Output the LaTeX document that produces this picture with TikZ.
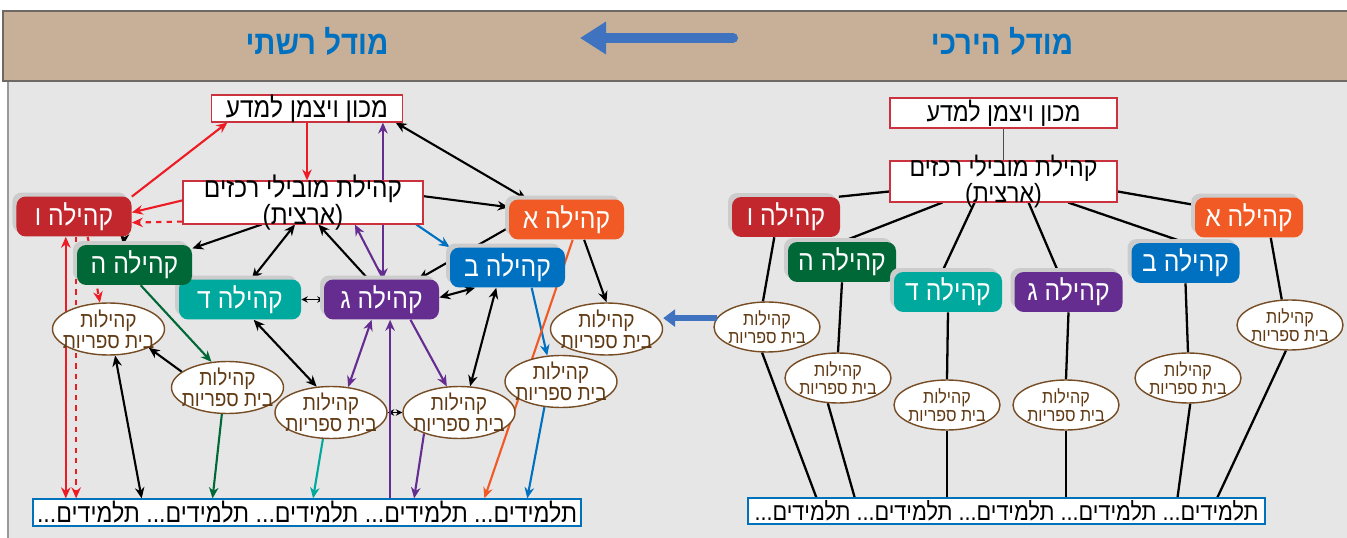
\documentclass[tikz,border=0pt]{standalone}
\usepackage{fontspec}
\usepackage{xcolor}
\usetikzlibrary{
    arrows.meta,
    shapes.geometric,
    shadows,
    calc
}
\newfontfamily\heb[Script=Hebrew,FakeStretch=0.88]{Liberation Sans}
\TeXXeTstate=1
\newcommand{\rl}[1]{\beginR#1\endR}

\definecolor{hdrtan}{RGB}{199,176,151}
\definecolor{hdrline}{RGB}{110,105,100}
\definecolor{bodygray}{RGB}{230,230,230}
\definecolor{titleblue}{RGB}{0,112,192}
\definecolor{bigblue}{RGB}{63,114,191}
\definecolor{boxred}{RGB}{204,50,62}
\definecolor{colA}{RGB}{241,90,36}
\definecolor{colB}{RGB}{0,112,192}
\definecolor{colG}{RGB}{102,45,145}
\definecolor{colD}{RGB}{0,169,157}
\definecolor{colH}{RGB}{0,104,55}
\definecolor{colV}{RGB}{193,39,45}
\definecolor{arrred}{RGB}{237,28,36}
\definecolor{schbrown}{RGB}{117,76,36}
\definecolor{schtext}{RGB}{96,57,19}
\definecolor{pupblue}{RGB}{0,114,188}

\pgfdeclarelayer{background}
\pgfsetlayers{background,main}

\tikzset{%
    >={Stealth[length=2.2mm,width=1.9mm]},
    % Specifications for style of nodes:
    base/.style = {
        rectangle, draw=boxred, line width=0.6pt, fill=white,
        font=\heb\fontsize{15.8}{13}\selectfont, align=center,
        inner xsep=1pt, inner ysep=-2mm
    },
    comm/.style = {
        rectangle, rounded corners=1.8mm, fill=#1, text=white,
        font=\heb\fontsize{16}{18}\selectfont,
        minimum width=23mm, minimum height=7mm,
        drop shadow={shadow xshift=-0.8mm, shadow yshift=0.8mm,
            fill=black!20, opacity=1}
    },
    school/.style = {
        ellipse, draw=schbrown, line width=0.8pt, fill=white, text=schtext,
        align=center, inner xsep=-4mm, inner ysep=-2mm,
        minimum width=22.4mm, minimum height=10.4mm,
        font=\heb\fontsize{12.3}{12}\selectfont
    },
    smallschool/.style = {
        school, minimum width=21.2mm, minimum height=10mm,
        font=\heb\fontsize{10.4}{10.5}\selectfont
    },
    pupils/.style = {
        rectangle, draw=pupblue, line width=0.7pt, fill=white, inner sep=0pt,
        font=\heb\fontsize{15}{16}\selectfont
    },
    title/.style = {text=titleblue, font=\heb\bfseries\fontsize{19}{19}\selectfont},
    % Specifications for style of connectors:
    link/.style = {line width=1.2pt},
    tree/.style = {line width=1.3pt},
    tiny2/.style = {<->, line width=0.6pt, >={Stealth[length=1.3mm,width=1.3mm]}},
    big/.style = {line width=#1, color=bigblue}
}

\begin{document}
\begin{tikzpicture}[x=0.2mm, y=-0.2mm]
    \useasboundingbox (0,0) rectangle (1347,538);
    \begin{pgfonlayer}{background}
        \fill[white] (0,0) rectangle (1347,538);
        \fill[bodygray] (8,81) rectangle (1347,538);
        \draw[black!40, line width=0.8pt] (8,81) -- (8,538);
        \fill[hdrtan] (3,11) rectangle (1347,81);
        \draw[hdrline, line width=0.8pt] (1347,11) -- (3,11) -- (3,81) -- (1347,81);
    \end{pgfonlayer}

    % header
    \node[title] (ttlL) at (317,41) {\rl{מודל רשתי}};
    \node[title] (ttlR) at (1002,41) {\rl{מודל הירכי}};
    \coordinate (hdrTail) at (733,38);
    \coordinate (hdrTip) at (580,38);
    \draw[big=2mm, line cap=round, -{Triangle[length=5.2mm,width=6.2mm]}] (hdrTail) -- (hdrTip);

    % network model (left)
    \node[base, minimum width=38.2mm, minimum height=5.4mm] (wzL) at (307,108.5) {\rl{מכון ויצמן למדע}};
    \node[base, minimum width=48mm, minimum height=8.6mm] (cenL) at (303,202.5) {\rl{קהילת מובילי רכזים}\\\rl{(ארצית)}};
    \node[comm=colA] (aL) at (566.5,219.5) {\rl{קהילה א}};
    \node[comm=colB] (bL) at (507.5,267.5) {\rl{קהילה ב}};
    \node[comm=colG] (gL) at (381.5,299.5) {\rl{קהילה ג}};
    \node[comm=colD, minimum width=24.4mm] (dL) at (240,299.5) {\rl{קהילה ד}};
    \node[comm=colH] (hL) at (134.5,265) {\rl{קהילה ה}};
    \node[comm=colV] (vL) at (74,216.5) {\rl{קהילה ו}};
    \node[school] (sL1) at (108.5,329) {\rl{קהילות}\\\rl{בית ספריות}};
    \node[school] (sL2) at (227.5,387.5) {\rl{קהילות}\\\rl{בית ספריות}};
    \node[school] (sL3) at (331,412.5) {\rl{קהילות}\\\rl{בית ספריות}};
    \node[school] (sL4) at (459,412.5) {\rl{קהילות}\\\rl{בית ספריות}};
    \node[school] (sL5) at (561,381.5) {\rl{קהילות}\\\rl{בית ספריות}};
    \node[school] (sL6) at (606.5,329) {\rl{קהילות}\\\rl{בית ספריות}};
    \node[pupils, minimum width=109.6mm, minimum height=5.4mm] (stL) at (307,512.5)
        {...\rl{תלמידים} ...\rl{תלמידים} ...\rl{תלמידים} ...\rl{תלמידים} ...\rl{תלמידים}};

    % hierarchical model (right)
    \node[base, minimum width=45.4mm, minimum height=6mm, font=\heb\fontsize{15}{13}\selectfont] (wzR) at (1003.5,113) {\rl{מכון ויצמן למדע}};
    \node[base, minimum width=45.4mm, minimum height=8.2mm, font=\heb\fontsize{15}{12.5}\selectfont] (cenR) at (1003.5,181.5) {\rl{קהילת מובילי רכזים}\\\rl{(ארצית)}};
    \node[comm=colV, minimum width=21.6mm] (vR) at (786,217) {\rl{קהילה ו}};
    \node[comm=colH, minimum width=21.6mm] (hR) at (842,262) {\rl{קהילה ה}};
    \node[comm=colD, minimum width=21.6mm] (dR) at (948,292) {\rl{קהילה ד}};
    \node[comm=colG, minimum width=21.6mm] (gR) at (1068.5,292) {\rl{קהילה ג}};
    \node[comm=colB, minimum width=21.6mm] (bR) at (1185.5,263) {\rl{קהילה ב}};
    \node[comm=colA, minimum width=21.6mm] (aR) at (1249,217.5) {\rl{קהילה א}};
    \node[smallschool] (sR1) at (767,327) {\rl{קהילות}\\\rl{בית ספריות}};
    \node[smallschool] (sR2) at (838,378) {\rl{קהילות}\\\rl{בית ספריות}};
    \node[smallschool] (sR3) at (947,405) {\rl{קהילות}\\\rl{בית ספריות}};
    \node[smallschool] (sR4) at (1066,405) {\rl{קהילות}\\\rl{בית ספריות}};
    \node[smallschool] (sR5) at (1188,378) {\rl{קהילות}\\\rl{בית ספריות}};
    \node[smallschool] (sR6) at (1290,325) {\rl{קהילות}\\\rl{בית ספריות}};
    \node[pupils, minimum width=103.4mm, minimum height=5.2mm, font=\heb\fontsize{14}{16}\selectfont] (stR) at (1006.5,511)
        {...\rl{תלמידים} ...\rl{תלמידים} ...\rl{תלמידים} ...\rl{תלמידים} ...\rl{תלמידים}};

    \begin{pgfonlayer}{background}
        % right tree
        \draw[black!70, line width=1pt] (wzR.south) -- (cenR.north);
        \draw[tree] (cenR.185) -- (vR.21);
        \draw[tree] (cenR.199) -- (hR.north);
        \draw[tree] (cenR.216) -- (dR.106);
        \draw[tree] (cenR.320) -- (gR.117);
        \draw[tree] (cenR.342) -- (bR.north);
        \draw[tree] (cenR.355) -- (aR.167);
        \draw[tree] (vR.240) -- (sR1.99);
        \draw[tree] (hR.south) -- (sR2.north);
        \draw[tree] (dR.south) -- (sR3.north);
        \draw[tree] (gR.south) -- (sR4.north);
        \draw[tree] (bR.south) -- (sR5.north);
        \draw[tree] (aR.317) -- (sR6.108);
        \draw[tree] (sR1.259) -- ($(stR.north west)!0.133!(stR.north east)$);
        \draw[tree] (sR2.248) -- ($(stR.north west)!0.207!(stR.north east)$);
        \draw[tree] (sR3.south) -- (sR3.south |- stR.north);
        \draw[tree] (sR4.south) -- (sR4.south |- stR.north);
        \draw[tree] (sR5.275) -- ($(stR.north west)!0.830!(stR.north east)$);
        \draw[tree] (sR6.261) -- ($(stR.north west)!0.907!(stR.north east)$);

        % left network: red
        \draw[link, arrred, ->] (vL.19) -- (wzL.190);
        \draw[link, arrred, ->] (wzL.south) -- (wzL.south |- cenL.north);
        \draw[link, arrred, ->] (cenL.179) -- (vL.4);
        \draw[link, arrred, dashed, ->] (cenL.189) -- (vL.-6);
        \draw[link, arrred, <->] (vL.248) -- (vL.248 |- stL.north);
        \draw[link, arrred, dashed, ->] (vL.276) -- (vL.276 |- stL.north);
        \draw[link, arrred, dashed, ->] (vL.304) -- (sL1.108);
        % black
        \draw[link, ->] (vL.-22) -- (hL.119);
        \draw[link, ->] (cenL.208) -- (hL.16);
        \draw[link, <->] (cenL.250) -- (dL.60);
        \draw[link, ->] (gL.123) -- (cenL.305);
        \draw[link, ->] (cenL.3) -- (aL.168);
        \draw[link, <->] (wzL.351) -- (aL.153);
        \draw[link, ->] (aL.188) -- (gL.29);
        \draw[link, <->] (gL.2) -- (bL.212);
        \draw[link, <->] (bL.241) -- (sL4.67);
        \draw[link, ->] (aL.311) -- (sL6.north);
        \draw[link, <->] (dL.304) -- (sL3.119);
        \draw[link, ->] (sL2.161) -- (sL1.335);
        \draw[link, <->] (sL1.284) -- ($(stL.north west)!0.199!(stL.north east)$);
        \draw[tiny2] (dL.east) -- (gL.west);
        \draw[tiny2] (sL3.east) -- (sL4.west);
        % purple
        \draw[link, colG, ->] (gL.85) -- (cenL.337);
        \draw[link, colG, <->] (gL.86) -- (gL.86 |- wzL.south);
        \draw[link, colG, ->] (gL.325) -- (sL4.115);
        \draw[link, colG, <->] (gL.244) -- (sL3.56);
        \draw[link, colG, ->] (gL.293 |- stL.north) -- (gL.293);
        \draw[link, colG, ->] (sL4.211) -- ($(stL.north west)!0.695!(stL.north east)$);
        % blue, orange, green, teal
        \draw[link, colB, ->] (cenL.349) -- (bL.north west);
        \draw[link, colB, ->] (bL.320) -- (sL5.118);
        \draw[link, colB, ->] (sL5.237) -- ($(stL.north west)!0.901!(stL.north east)$);
        \draw[link, colA, ->] (aL.287) -- ($(stL.north west)!0.823!(stL.north east)$);
        \draw[link, colH, ->] (hL.287) -- (sL2.122);
        \draw[link, colH, ->] (sL2.258) -- ($(stL.north west)!0.328!(stL.north east)$);
        \draw[link, colD, ->] (sL3.253) -- ($(stL.north west)!0.511!(stL.north east)$);
    \end{pgfonlayer}

    % from hierarchy to network
    \draw[big=1.2mm, -{Triangle[length=2.4mm,width=3.4mm]}] (sR1.170) -- (sR1.170 -| sL6.east);
\end{tikzpicture}
\end{document}
